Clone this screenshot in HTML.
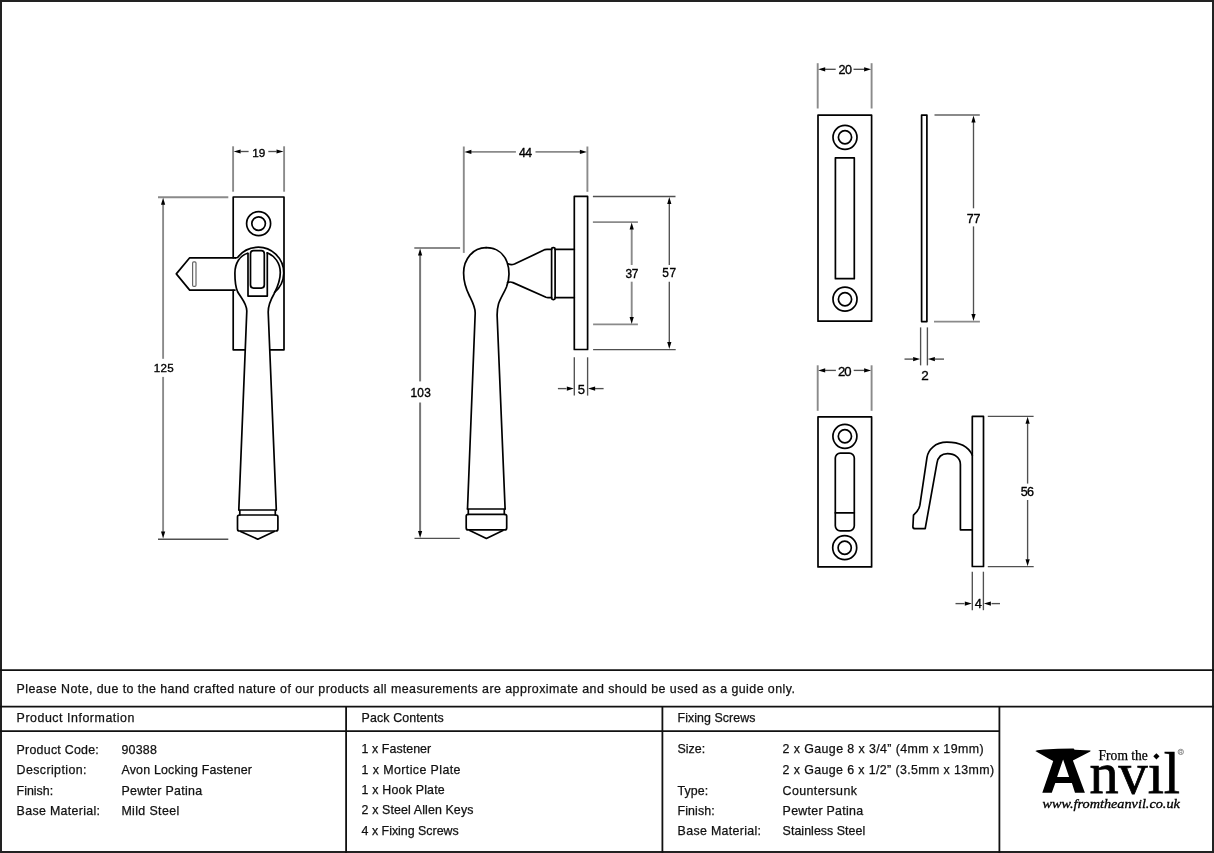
<!DOCTYPE html>
<html><head><meta charset="utf-8"><title>Avon Locking Fastener</title>
<style>html,body{margin:0;padding:0;background:#fff;width:1214px;height:853px;overflow:hidden}svg{display:block}</style>
</head><body>
<svg style="will-change:transform" width="1214" height="853" viewBox="0 0 1214 853">
<rect x="0" y="0" width="1214" height="853" fill="#fff"/>
<rect x="1" y="1" width="1212" height="851" fill="none" stroke="#222" stroke-width="2"/>
<line x1="0" y1="670.2" x2="1214" y2="670.2" stroke="#111" stroke-width="1.8"/>
<line x1="0" y1="706.7" x2="1214" y2="706.7" stroke="#111" stroke-width="1.8"/>
<line x1="0" y1="731.2" x2="999.4" y2="731.2" stroke="#111" stroke-width="1.8"/>
<line x1="346.1" y1="706" x2="346.1" y2="853" stroke="#111" stroke-width="1.8"/>
<line x1="662.4" y1="706" x2="662.4" y2="853" stroke="#111" stroke-width="1.8"/>
<line x1="999.4" y1="706" x2="999.4" y2="853" stroke="#111" stroke-width="1.8"/>
<text x="16.60" y="692.80" font-family="Liberation Sans, sans-serif" font-size="12.4" fill="#111" stroke="#111" stroke-width="0.25" textLength="778.32">Please Note, due to the hand crafted nature of our products all measurements are approximate and should be used as a guide only.</text>
<text x="16.60" y="722.40" font-family="Liberation Sans, sans-serif" font-size="12.4" fill="#111" stroke="#111" stroke-width="0.25" textLength="117.82">Product Information</text>
<text x="361.60" y="722.40" font-family="Liberation Sans, sans-serif" font-size="12.4" fill="#111" stroke="#111" stroke-width="0.25" textLength="82.05">Pack Contents</text>
<text x="677.60" y="722.30" font-family="Liberation Sans, sans-serif" font-size="12.4" fill="#111" stroke="#111" stroke-width="0.25" textLength="77.77">Fixing Screws</text>
<text x="16.60" y="753.70" font-family="Liberation Sans, sans-serif" font-size="12.4" fill="#111" stroke="#111" stroke-width="0.25" textLength="82.17">Product Code:</text>
<text x="121.40" y="753.70" font-family="Liberation Sans, sans-serif" font-size="12.4" fill="#111" stroke="#111" stroke-width="0.25" textLength="35.48">90388</text>
<text x="16.60" y="774.30" font-family="Liberation Sans, sans-serif" font-size="12.4" fill="#111" stroke="#111" stroke-width="0.25" textLength="69.87">Description:</text>
<text x="121.40" y="774.30" font-family="Liberation Sans, sans-serif" font-size="12.4" fill="#111" stroke="#111" stroke-width="0.25" textLength="130.61">Avon Locking Fastener</text>
<text x="16.60" y="794.60" font-family="Liberation Sans, sans-serif" font-size="12.4" fill="#111" stroke="#111" stroke-width="0.25">Finish:</text>
<text x="121.40" y="794.60" font-family="Liberation Sans, sans-serif" font-size="12.4" fill="#111" stroke="#111" stroke-width="0.25" textLength="80.70">Pewter Patina</text>
<text x="16.60" y="815.00" font-family="Liberation Sans, sans-serif" font-size="12.4" fill="#111" stroke="#111" stroke-width="0.25" textLength="83.46">Base Material:</text>
<text x="121.40" y="815.00" font-family="Liberation Sans, sans-serif" font-size="12.4" fill="#111" stroke="#111" stroke-width="0.25" textLength="57.85">Mild Steel</text>
<text x="361.60" y="753.40" font-family="Liberation Sans, sans-serif" font-size="12.4" fill="#111" stroke="#111" stroke-width="0.25" textLength="69.62">1 x Fastener</text>
<text x="361.60" y="773.60" font-family="Liberation Sans, sans-serif" font-size="12.4" fill="#111" stroke="#111" stroke-width="0.25" textLength="98.85">1 x Mortice Plate</text>
<text x="361.60" y="794.00" font-family="Liberation Sans, sans-serif" font-size="12.4" fill="#111" stroke="#111" stroke-width="0.25" textLength="83.15">1 x Hook Plate</text>
<text x="361.60" y="814.20" font-family="Liberation Sans, sans-serif" font-size="12.4" fill="#111" stroke="#111" stroke-width="0.25" textLength="111.80">2 x Steel Allen Keys</text>
<text x="361.60" y="834.50" font-family="Liberation Sans, sans-serif" font-size="12.4" fill="#111" stroke="#111" stroke-width="0.25">4 x Fixing Screws</text>
<text x="677.60" y="753.40" font-family="Liberation Sans, sans-serif" font-size="12.4" fill="#111" stroke="#111" stroke-width="0.25">Size:</text>
<text x="782.60" y="753.40" font-family="Liberation Sans, sans-serif" font-size="12.4" fill="#111" stroke="#111" stroke-width="0.25" textLength="200.93">2 x Gauge 8 x 3/4&#8221; (4mm x 19mm)</text>
<text x="782.60" y="773.80" font-family="Liberation Sans, sans-serif" font-size="12.4" fill="#111" stroke="#111" stroke-width="0.25" textLength="211.57">2 x Gauge 6 x 1/2&#8221; (3.5mm x 13mm)</text>
<text x="677.60" y="794.70" font-family="Liberation Sans, sans-serif" font-size="12.4" fill="#111" stroke="#111" stroke-width="0.25" textLength="30.63">Type:</text>
<text x="782.60" y="794.70" font-family="Liberation Sans, sans-serif" font-size="12.4" fill="#111" stroke="#111" stroke-width="0.25" textLength="74.31">Countersunk</text>
<text x="677.60" y="814.80" font-family="Liberation Sans, sans-serif" font-size="12.4" fill="#111" stroke="#111" stroke-width="0.25" textLength="37.02">Finish:</text>
<text x="782.60" y="814.80" font-family="Liberation Sans, sans-serif" font-size="12.4" fill="#111" stroke="#111" stroke-width="0.25" textLength="80.50">Pewter Patina</text>
<text x="677.60" y="834.90" font-family="Liberation Sans, sans-serif" font-size="12.4" fill="#111" stroke="#111" stroke-width="0.25" textLength="83.46">Base Material:</text>
<text x="782.60" y="834.90" font-family="Liberation Sans, sans-serif" font-size="12.4" fill="#111" stroke="#111" stroke-width="0.25" textLength="82.63">Stainless Steel</text>
<path d="M233.2,257.8 V197 H284 V349.8 H269.8 M245.2,349.8 H233.2 V290.3" stroke="#000" stroke-width="1.7" fill="none" stroke-linejoin="round" stroke-linecap="round"/>
<circle cx="258.6" cy="223.6" r="12" stroke="#000" stroke-width="1.7" fill="none" stroke-linejoin="round" stroke-linecap="round"/>
<circle cx="258.6" cy="223.6" r="6.8" stroke="#000" stroke-width="1.7" fill="none" stroke-linejoin="round" stroke-linecap="round"/>
<path d="M235.5,257.8 H189.7 L176.3,273.9 L189.7,290.1 H235" stroke="#000" stroke-width="1.7" fill="none" stroke-linejoin="round" stroke-linecap="round"/>
<rect x="192.6" y="261.8" width="3.4" height="24.6" rx="1.2" stroke="#666" stroke-width="1.2" fill="none"/>
<path d="M235.3,257.8 Q236.5,257.6 237.6,257.5 A25.6,25.6 0 1 1 274.6,292.4" stroke="#000" stroke-width="1.7" fill="none" stroke-linejoin="round" stroke-linecap="round"/>
<path d="M247.6,253.3 C240,255.5 234.9,263 234.9,273.2 C234.9,281 235.6,287 237.5,291.5 C240.5,297.5 246.8,303 246.8,311 L238.8,509.6" stroke="#000" stroke-width="1.7" fill="none" stroke-linejoin="round" stroke-linecap="round"/>
<path d="M267.2,252.9 C274.5,255.5 280.3,263 280.3,272.5 C280.3,282 277,288 274,294 C270.5,300 268.2,305 268.2,312 L276.3,509.6" stroke="#000" stroke-width="1.7" fill="none" stroke-linejoin="round" stroke-linecap="round"/>
<path d="M248,253.3 V296.1 H267.3 V252.9" stroke="#000" stroke-width="1.7" fill="none" stroke-linejoin="round" stroke-linecap="round"/>
<rect x="250.5" y="250.7" width="13.8" height="37.4" rx="3" stroke="#000" stroke-width="1.7" fill="none" stroke-linejoin="round" stroke-linecap="round"/>
<path d="M238.8,510 H276.3 M239.8,510 V515 M275.3,510 V515" stroke="#000" stroke-width="1.7" fill="none" stroke-linejoin="round" stroke-linecap="round"/>
<rect x="237.5" y="515" width="40.4" height="16" rx="2" stroke="#000" stroke-width="1.7" fill="none" stroke-linejoin="round" stroke-linecap="round"/>
<path d="M240.6,531.4 L257.8,539.2 L274.2,531.4" stroke="#000" stroke-width="1.7" fill="none" stroke-linejoin="round" stroke-linecap="round"/>
<line x1="233.10" y1="146.30" x2="233.10" y2="191.70" stroke="#8a8a8a" stroke-width="1.9" fill="none"/>
<line x1="284.10" y1="146.30" x2="284.10" y2="191.70" stroke="#8a8a8a" stroke-width="1.9" fill="none"/>
<line x1="240.50" y1="151.50" x2="248.60" y2="151.50" stroke="#505050" stroke-width="1.35" fill="none"/>
<line x1="268.30" y1="151.50" x2="276.50" y2="151.50" stroke="#505050" stroke-width="1.35" fill="none"/>
<polygon points="233.60,151.50 240.60,149.40 240.60,153.60" fill="#000"/>
<polygon points="283.50,151.50 276.50,149.40 276.50,153.60" fill="#000"/>
<text x="252.16" y="156.83" font-family="Liberation Sans, sans-serif" font-size="11.72" fill="#000" stroke="#000" stroke-width="0.35" textLength="13.15" lengthAdjust="spacing">19</text>
<line x1="158.00" y1="197.20" x2="228.30" y2="197.20" stroke="#8a8a8a" stroke-width="1.9" fill="none"/>
<line x1="158.00" y1="539.20" x2="228.30" y2="539.20" stroke="#505050" stroke-width="1.35" fill="none"/>
<line x1="163.10" y1="204.00" x2="163.10" y2="358.80" stroke="#8a8a8a" stroke-width="1.9" fill="none"/>
<line x1="163.10" y1="376.90" x2="163.10" y2="532.00" stroke="#8a8a8a" stroke-width="1.9" fill="none"/>
<polygon points="163.10,197.80 161.00,204.80 165.20,204.80" fill="#000"/>
<polygon points="163.10,538.60 161.00,531.60 165.20,531.60" fill="#000"/>
<text x="153.67" y="371.83" font-family="Liberation Sans, sans-serif" font-size="11.58" fill="#000" stroke="#000" stroke-width="0.35" textLength="20.07" lengthAdjust="spacing">125</text>
<rect x="574.3" y="196.4" width="13.3" height="153.1" stroke="#000" stroke-width="1.7" fill="none" stroke-linejoin="round" stroke-linecap="round"/>
<path d="M555.1,249.3 H574.3 M555.1,297.7 H574.3" stroke="#000" stroke-width="1.7" fill="none" stroke-linejoin="round" stroke-linecap="round"/>
<rect x="551.6" y="247.7" width="3.5" height="51.9" rx="1.5" stroke="#000" stroke-width="1.7" fill="none" stroke-linejoin="round" stroke-linecap="round"/>
<path d="M508,263.8 Q511,265.2 514.5,264 L545,249.6 Q546,249.3 547,249.3 H551.6" stroke="#000" stroke-width="1.7" fill="none" stroke-linejoin="round" stroke-linecap="round"/>
<path d="M507.6,282.6 Q510,281.4 513,282.6 L546,297.3 Q547,297.7 548,297.7 H551.6" stroke="#000" stroke-width="1.7" fill="none" stroke-linejoin="round" stroke-linecap="round"/>
<path d="M486.1,247.7 C473,247.7 463.6,259 463.6,273 C463.6,282 466,289 469.5,296 C473,303 475.2,307 475.2,313 L467.5,509" stroke="#000" stroke-width="1.7" fill="none" stroke-linejoin="round" stroke-linecap="round"/>
<path d="M486.1,247.7 C497,247.7 504,254 507,262 C508.5,266 509,270 509,274 C509,279 508,283 506.5,287 C504,293 500,299 498.5,304 C497.5,307.5 497.1,311 497.1,315 L505.1,509" stroke="#000" stroke-width="1.7" fill="none" stroke-linejoin="round" stroke-linecap="round"/>
<path d="M467.5,509 H505.1 M468.3,509 V514.3 M504.3,509 V514.3" stroke="#000" stroke-width="1.7" fill="none" stroke-linejoin="round" stroke-linecap="round"/>
<rect x="466.2" y="514.3" width="40.5" height="15.6" rx="2" stroke="#000" stroke-width="1.7" fill="none" stroke-linejoin="round" stroke-linecap="round"/>
<path d="M469.8,530.6 L486.4,538.5 L502.9,530.6" stroke="#000" stroke-width="1.7" fill="none" stroke-linejoin="round" stroke-linecap="round"/>
<line x1="463.80" y1="146.50" x2="463.80" y2="252.90" stroke="#8a8a8a" stroke-width="1.9" fill="none"/>
<line x1="587.40" y1="146.50" x2="587.40" y2="191.80" stroke="#8a8a8a" stroke-width="1.9" fill="none"/>
<line x1="471.00" y1="151.90" x2="515.90" y2="151.90" stroke="#8a8a8a" stroke-width="1.9" fill="none"/>
<line x1="535.50" y1="151.90" x2="580.00" y2="151.90" stroke="#8a8a8a" stroke-width="1.9" fill="none"/>
<polygon points="464.40,151.90 471.40,149.80 471.40,154.00" fill="#000"/>
<polygon points="586.90,151.90 579.90,149.80 579.90,154.00" fill="#000"/>
<text x="518.97" y="156.95" font-family="Liberation Sans, sans-serif" font-size="12.21" fill="#000" stroke="#000" stroke-width="0.35" textLength="13.14" lengthAdjust="spacing">44</text>
<line x1="414.30" y1="248.00" x2="460.10" y2="248.00" stroke="#8a8a8a" stroke-width="1.9" fill="none"/>
<line x1="414.50" y1="538.30" x2="459.80" y2="538.30" stroke="#505050" stroke-width="1.35" fill="none"/>
<line x1="420.10" y1="255.00" x2="420.10" y2="381.40" stroke="#777" stroke-width="2" fill="none"/>
<line x1="420.10" y1="402.50" x2="420.10" y2="531.00" stroke="#777" stroke-width="2" fill="none"/>
<polygon points="420.10,248.50 418.00,255.50 422.20,255.50" fill="#000"/>
<polygon points="420.10,537.90 418.00,530.90 422.20,530.90" fill="#000"/>
<text x="410.55" y="396.83" font-family="Liberation Sans, sans-serif" font-size="11.86" fill="#000" stroke="#000" stroke-width="0.35" textLength="20.23" lengthAdjust="spacing">103</text>
<line x1="592.90" y1="196.50" x2="675.50" y2="196.50" stroke="#505050" stroke-width="1.35" fill="none"/>
<line x1="593.10" y1="349.60" x2="675.70" y2="349.60" stroke="#505050" stroke-width="1.35" fill="none"/>
<line x1="669.30" y1="203.50" x2="669.30" y2="265.00" stroke="#505050" stroke-width="1.35" fill="none"/>
<line x1="669.30" y1="281.70" x2="669.30" y2="342.50" stroke="#505050" stroke-width="1.35" fill="none"/>
<polygon points="669.30,197.00 667.20,204.00 671.40,204.00" fill="#000"/>
<polygon points="669.30,349.10 667.20,342.10 671.40,342.10" fill="#000"/>
<text x="662.37" y="277.33" font-family="Liberation Sans, sans-serif" font-size="11.89" fill="#000" stroke="#000" stroke-width="0.35" textLength="13.67" lengthAdjust="spacing">57</text>
<line x1="592.90" y1="222.10" x2="637.90" y2="222.10" stroke="#8a8a8a" stroke-width="1.9" fill="none"/>
<line x1="593.10" y1="324.40" x2="637.90" y2="324.40" stroke="#8a8a8a" stroke-width="1.9" fill="none"/>
<line x1="631.70" y1="229.00" x2="631.70" y2="265.00" stroke="#8a8a8a" stroke-width="1.9" fill="none"/>
<line x1="631.70" y1="281.70" x2="631.70" y2="317.50" stroke="#8a8a8a" stroke-width="1.9" fill="none"/>
<polygon points="631.70,222.60 629.60,229.60 633.80,229.60" fill="#000"/>
<polygon points="631.70,323.90 629.60,316.90 633.80,316.90" fill="#000"/>
<text x="625.60" y="277.53" font-family="Liberation Sans, sans-serif" font-size="11.86" fill="#000" stroke="#000" stroke-width="0.35" textLength="12.75" lengthAdjust="spacing">37</text>
<line x1="574.30" y1="357.30" x2="574.30" y2="395.60" stroke="#505050" stroke-width="1.35" fill="none"/>
<line x1="587.60" y1="357.30" x2="587.60" y2="395.60" stroke="#505050" stroke-width="1.35" fill="none"/>
<line x1="557.90" y1="388.60" x2="566.50" y2="388.60" stroke="#505050" stroke-width="1.35" fill="none"/>
<line x1="595.00" y1="388.60" x2="603.60" y2="388.60" stroke="#505050" stroke-width="1.35" fill="none"/>
<polygon points="573.80,388.60 566.80,386.50 566.80,390.70" fill="#000"/>
<polygon points="588.10,388.60 595.10,386.50 595.10,390.70" fill="#000"/>
<text x="577.73" y="394.42" font-family="Liberation Sans, sans-serif" font-size="13.04" fill="#000" stroke="#000" stroke-width="0.35">5</text>
<rect x="818" y="115.1" width="53.6" height="206.1" stroke="#000" stroke-width="1.7" fill="none" stroke-linejoin="round" stroke-linecap="round"/>
<circle cx="845" cy="137.3" r="12" stroke="#000" stroke-width="1.7" fill="none" stroke-linejoin="round" stroke-linecap="round"/>
<circle cx="845" cy="137.3" r="6.6" stroke="#000" stroke-width="1.7" fill="none" stroke-linejoin="round" stroke-linecap="round"/>
<circle cx="845" cy="299.2" r="12" stroke="#000" stroke-width="1.7" fill="none" stroke-linejoin="round" stroke-linecap="round"/>
<circle cx="845" cy="299.2" r="6.6" stroke="#000" stroke-width="1.7" fill="none" stroke-linejoin="round" stroke-linecap="round"/>
<rect x="835.4" y="157.8" width="18.9" height="120.9" stroke="#000" stroke-width="1.7" fill="none" stroke-linejoin="round" stroke-linecap="round"/>
<line x1="817.70" y1="63.20" x2="817.70" y2="108.50" stroke="#8a8a8a" stroke-width="1.9" fill="none"/>
<line x1="871.60" y1="63.20" x2="871.60" y2="108.50" stroke="#8a8a8a" stroke-width="1.9" fill="none"/>
<line x1="825.00" y1="69.30" x2="835.70" y2="69.30" stroke="#505050" stroke-width="1.35" fill="none"/>
<line x1="853.50" y1="69.30" x2="864.50" y2="69.30" stroke="#505050" stroke-width="1.35" fill="none"/>
<polygon points="818.20,69.30 825.20,67.20 825.20,71.40" fill="#000"/>
<polygon points="871.10,69.30 864.10,67.20 864.10,71.40" fill="#000"/>
<text x="838.42" y="73.52" font-family="Liberation Sans, sans-serif" font-size="12.57" fill="#000" stroke="#000" stroke-width="0.35" textLength="13.62" lengthAdjust="spacing">20</text>
<rect x="921.6" y="115.1" width="5.3" height="206.5" stroke="#000" stroke-width="1.7" fill="none" stroke-linejoin="round" stroke-linecap="round"/>
<line x1="934.50" y1="115.00" x2="979.80" y2="115.00" stroke="#8a8a8a" stroke-width="1.9" fill="none"/>
<line x1="934.00" y1="321.60" x2="979.90" y2="321.60" stroke="#8a8a8a" stroke-width="1.9" fill="none"/>
<line x1="973.50" y1="122.00" x2="973.50" y2="208.30" stroke="#505050" stroke-width="1.35" fill="none"/>
<line x1="973.50" y1="226.40" x2="973.50" y2="314.50" stroke="#505050" stroke-width="1.35" fill="none"/>
<polygon points="973.50,115.60 971.40,122.60 975.60,122.60" fill="#000"/>
<polygon points="973.50,321.00 971.40,314.00 975.60,314.00" fill="#000"/>
<text x="966.81" y="222.95" font-family="Liberation Sans, sans-serif" font-size="12.50" fill="#000" stroke="#000" stroke-width="0.35" textLength="13.57" lengthAdjust="spacing">77</text>
<line x1="920.60" y1="327.40" x2="920.60" y2="365.40" stroke="#505050" stroke-width="1.35" fill="none"/>
<line x1="927.40" y1="327.40" x2="927.40" y2="365.40" stroke="#505050" stroke-width="1.35" fill="none"/>
<line x1="904.50" y1="359.10" x2="913.00" y2="359.10" stroke="#505050" stroke-width="1.35" fill="none"/>
<line x1="935.00" y1="359.10" x2="944.00" y2="359.10" stroke="#505050" stroke-width="1.35" fill="none"/>
<polygon points="920.10,359.10 913.10,357.00 913.10,361.20" fill="#000"/>
<polygon points="927.90,359.10 934.90,357.00 934.90,361.20" fill="#000"/>
<text x="921.28" y="380.05" font-family="Liberation Sans, sans-serif" font-size="13.47" fill="#000" stroke="#000" stroke-width="0.35">2</text>
<rect x="818" y="416.9" width="53.6" height="150" stroke="#000" stroke-width="1.7" fill="none" stroke-linejoin="round" stroke-linecap="round"/>
<circle cx="844.9" cy="436.3" r="12" stroke="#000" stroke-width="1.7" fill="none" stroke-linejoin="round" stroke-linecap="round"/>
<circle cx="844.9" cy="436.3" r="6.6" stroke="#000" stroke-width="1.7" fill="none" stroke-linejoin="round" stroke-linecap="round"/>
<circle cx="844.7" cy="547.7" r="12" stroke="#000" stroke-width="1.7" fill="none" stroke-linejoin="round" stroke-linecap="round"/>
<circle cx="844.7" cy="547.7" r="6.6" stroke="#000" stroke-width="1.7" fill="none" stroke-linejoin="round" stroke-linecap="round"/>
<rect x="835.3" y="453.1" width="19" height="77.7" rx="5" stroke="#000" stroke-width="1.7" fill="none" stroke-linejoin="round" stroke-linecap="round"/>
<path d="M835.3,512.8 H854.3" stroke="#000" stroke-width="1.7" fill="none" stroke-linejoin="round" stroke-linecap="round"/>
<line x1="817.70" y1="365.30" x2="817.70" y2="410.80" stroke="#8a8a8a" stroke-width="1.9" fill="none"/>
<line x1="871.60" y1="365.30" x2="871.60" y2="410.80" stroke="#8a8a8a" stroke-width="1.9" fill="none"/>
<line x1="825.00" y1="370.40" x2="835.90" y2="370.40" stroke="#505050" stroke-width="1.35" fill="none"/>
<line x1="853.70" y1="370.40" x2="864.50" y2="370.40" stroke="#505050" stroke-width="1.35" fill="none"/>
<polygon points="818.20,370.40 825.20,368.30 825.20,372.50" fill="#000"/>
<polygon points="871.10,370.40 864.10,368.30 864.10,372.50" fill="#000"/>
<text x="837.99" y="375.82" font-family="Liberation Sans, sans-serif" font-size="13.14" fill="#000" stroke="#000" stroke-width="0.35" textLength="13.57" lengthAdjust="spacing">20</text>
<rect x="972.3" y="416.4" width="11.2" height="150.1" stroke="#000" stroke-width="1.7" fill="none" stroke-linejoin="round" stroke-linecap="round"/>
<path d="M972.3,455.1 C968,446 958,442.2 946.9,442.2 C935,442.2 928,450 927,457.4 L919.9,505.2 C919,510 916,513 913.5,515.2 L912.9,526.9 Q913,528.7 915.2,528.7 L925.2,528.7 L936.9,463.3 C938,457 942,453.7 947.5,453.7 C955,453.7 960.4,458 960.4,464.5 L960.4,529.8 L972.1,529.8" stroke="#000" stroke-width="1.7" fill="none" stroke-linejoin="round" stroke-linecap="round"/>
<line x1="987.80" y1="416.30" x2="1033.60" y2="416.30" stroke="#505050" stroke-width="1.35" fill="none"/>
<line x1="987.80" y1="566.60" x2="1033.70" y2="566.60" stroke="#505050" stroke-width="1.35" fill="none"/>
<line x1="1027.60" y1="423.50" x2="1027.60" y2="483.60" stroke="#505050" stroke-width="1.35" fill="none"/>
<line x1="1027.60" y1="500.00" x2="1027.60" y2="559.50" stroke="#505050" stroke-width="1.35" fill="none"/>
<polygon points="1027.60,416.80 1025.50,423.80 1029.70,423.80" fill="#000"/>
<polygon points="1027.60,566.20 1025.50,559.20 1029.70,559.20" fill="#000"/>
<text x="1020.65" y="496.32" font-family="Liberation Sans, sans-serif" font-size="12.57" fill="#000" stroke="#000" stroke-width="0.35" textLength="13.46" lengthAdjust="spacing">56</text>
<line x1="972.30" y1="571.70" x2="972.30" y2="610.20" stroke="#505050" stroke-width="1.35" fill="none"/>
<line x1="983.40" y1="571.70" x2="983.40" y2="610.20" stroke="#505050" stroke-width="1.35" fill="none"/>
<line x1="955.50" y1="603.60" x2="964.50" y2="603.60" stroke="#505050" stroke-width="1.35" fill="none"/>
<line x1="991.50" y1="603.60" x2="1000.00" y2="603.60" stroke="#505050" stroke-width="1.35" fill="none"/>
<polygon points="971.80,603.60 964.80,601.50 964.80,605.70" fill="#000"/>
<polygon points="983.90,603.60 990.90,601.50 990.90,605.70" fill="#000"/>
<text x="974.86" y="607.75" font-family="Liberation Sans, sans-serif" font-size="12.79" fill="#000" stroke="#000" stroke-width="0.35">4</text>
<path d="M1035.3,750.9 C1038,750 1041,749.7 1044.1,749.5 L1058.1,748.8 L1073.6,748.6 L1074.6,749.8 L1090.5,750.6 L1090.3,751.6 L1072.9,760.4 L1084.9,792.8 L1075,792.8 L1071.9,782.9 L1055.3,782.9 L1051.8,792.8 L1042.3,792.8 L1053.2,761.1 C1047,757.5 1040,753.5 1035.3,750.9 Z M1063.1,759.4 L1057.1,776.9 L1069.1,776.9 Z" fill="#000" fill-rule="evenodd"/>
<text x="1098.6" y="759.9" font-family="Liberation Serif, serif" font-size="13.9" fill="#000" stroke="#000" stroke-width="0.25" textLength="49.2" lengthAdjust="spacingAndGlyphs">From the</text>
<text x="1089.4" y="792.8" font-family="Liberation Serif, serif" font-size="58.6" fill="#000" stroke="#000" stroke-width="0.75" textLength="90.6" lengthAdjust="spacingAndGlyphs">nv&#305;l</text>
<path d="M1156.4,753.2 L1159.5,756.3 L1156.4,759.4 L1153.3,756.3 Z" fill="#000"/>
<circle cx="1180.8" cy="751.9" r="2.7" fill="none" stroke="#666" stroke-width="0.7"/><text x="1180.8" y="753.6" text-anchor="middle" font-family="Liberation Sans, sans-serif" font-size="4.5" fill="#666">R</text>
<text x="1042.5" y="807.6" font-family="Liberation Serif, serif" font-style="italic" font-size="13" fill="#000" stroke="#000" stroke-width="0.3" textLength="137.4" lengthAdjust="spacingAndGlyphs">www.fromtheanvil.co.uk</text>
</svg>
</body></html>
